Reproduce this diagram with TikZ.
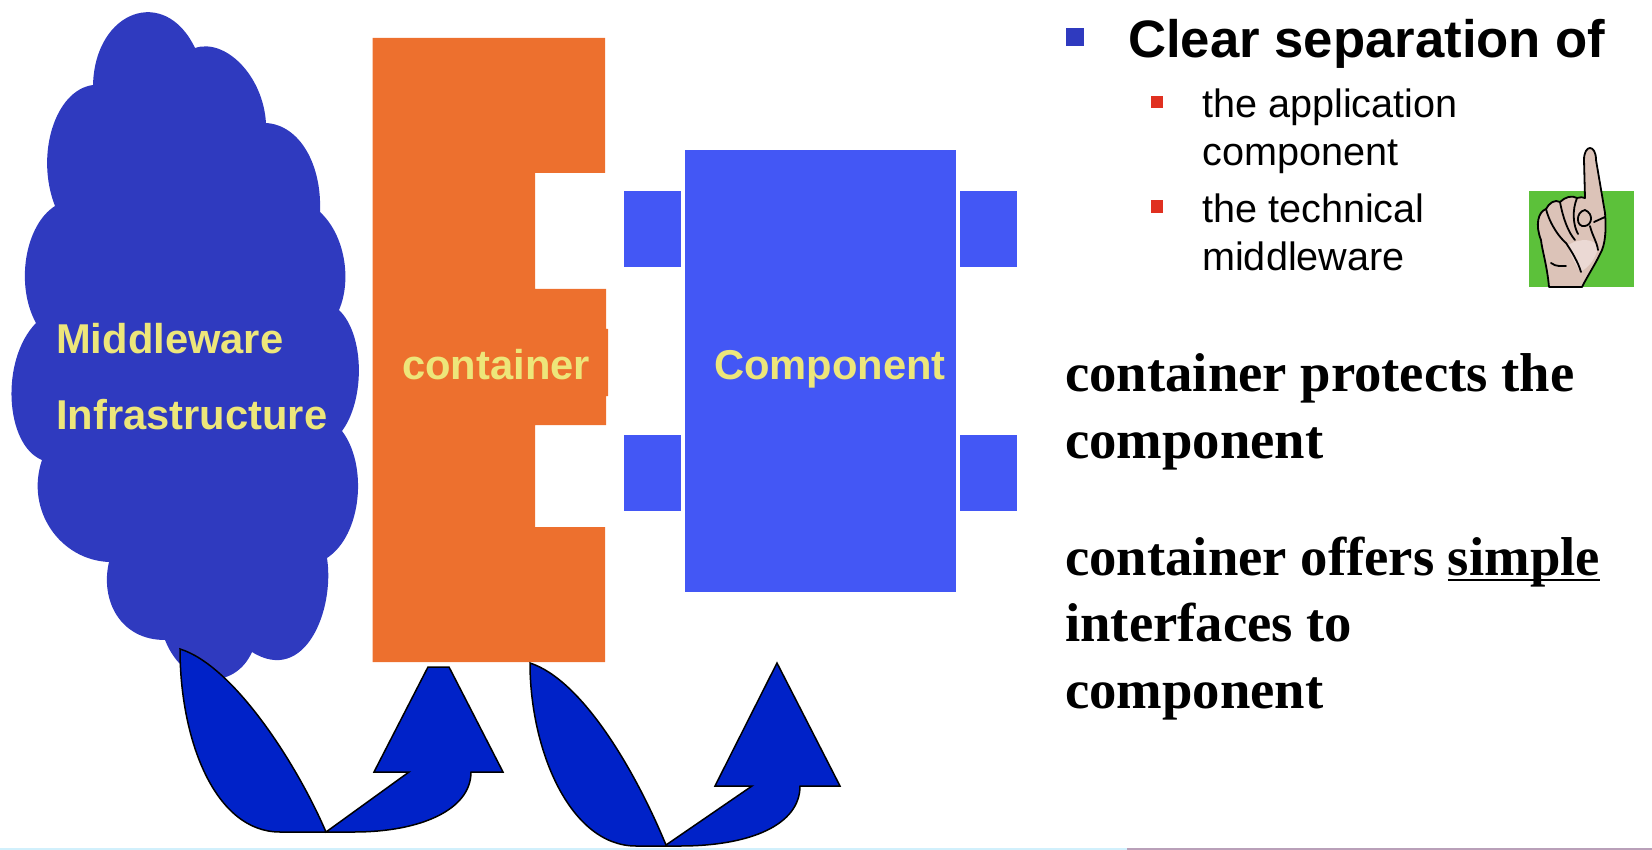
\documentclass[tikz,border=0pt]{standalone}
\usepackage{fontspec}
\setmainfont{Liberation Sans}
\newfontfamily\serifbold[BoldFont={Liberation Serif Bold}]{Liberation Serif}
\usepackage{xcolor}
\newsavebox{\ulbox}
\newcommand{\ulword}[1]{\sbox{\ulbox}{#1}\rlap{\rule[-6pt]{\wd\ulbox}{2.2pt}}#1}
\definecolor{cloudblue}{HTML}{2F3ABF}
\definecolor{boxorange}{HTML}{ED702E}
\definecolor{compblue}{HTML}{4357F5}
\definecolor{arrowblue}{HTML}{0022C8}
\definecolor{labelyellow}{HTML}{EDE67A}
\definecolor{bulletred}{HTML}{E03020}
\definecolor{handgreen}{HTML}{5CC13A}
\definecolor{skin}{HTML}{DCC3B8}
\definecolor{palm}{HTML}{EBD9D4}

\begin{document}
\begin{tikzpicture}[
    x=1pt, y=-1pt,
    port/.style={
        rectangle, fill=compblue, inner sep=0pt,
        minimum width=57pt, minimum height=76pt
    },
    lbl/.style={
        anchor=base west, inner sep=0pt, align=left, text=labelyellow,
        font=\fontsize{41.7}{76}\selectfont\bfseries
    },
    bullet/.style={
        rectangle, inner sep=0pt, minimum size=12.5pt, fill=bulletred
    },
    subtext/.style={
        anchor=base west, inner sep=0pt, align=left,
        font=\fontsize{39.6}{48}\selectfont
    },
    bigtext/.style={
        anchor=base west, inner sep=0pt, align=left,
        font=\fontsize{54.7}{66.5}\selectfont\serifbold\bfseries
    },
    bendarrow/.style={
        fill=arrowblue, draw=black, line width=1.5pt, line join=miter
    },
    handline/.style={
        draw=black, line width=1.8pt, line cap=round, line join=round
    }
]
\useasboundingbox (0,0) rectangle (1652,850);

% Bottom edge
\fill[cyan!18] (0,848) rectangle (1127,850);
\fill[violet!35!gray!55] (1127,848) rectangle (1652,850);

% Cloud
\fill[cloudblue] (93,85) .. controls (95,10) and (165,-15) .. (195,48)
    .. controls (225,38) and (263,75) .. (266,123)
    .. controls (300,125) and (322,165) .. (320,212)
    .. controls (345,235) and (352,280) .. (339,310)
    .. controls (365,335) and (365,400) .. (342,431)
    .. controls (368,465) and (362,535) .. (327,558)
    .. controls (335,610) and (305,685) .. (252,652)
    .. controls (235,690) and (185,690) .. (165,640)
    .. controls (120,640) and (100,600) .. (109,562)
    .. controls (60,560) and (25,510) .. (42,460)
    .. controls (5,445) and (0,360) .. (36,323)
    .. controls (15,285) and (25,225) .. (55,206)
    .. controls (35,155) and (55,90) .. (93,85) -- cycle;
\node[lbl] (cloudtext) at (56,429) {Middleware\\Infrastructure};

% Container
\fill[boxorange] (372.5,38) -- (605,38) -- (605,173) -- (535,173) -- (535,289)
    -- (606,289) -- (606,329) -- (608,329) -- (608,396) -- (606,396) -- (606,425)
    -- (535,425) -- (535,527) -- (605,527) -- (605,662) -- (372.5,662) -- cycle;
\node[lbl] (containertext) at (402,379) {container};

% Component
\node[rectangle, fill=compblue, inner sep=0pt, minimum width=271pt, minimum height=442pt] (component) at (820.5,371) {};
\node[lbl] (componenttext) at (714,379) {Component};
\node[port] (portnw) at (652.5,229) {};
\node[port] (portsw) at (652.5,472.5) {};
\node[port] (portne) at (988.5,229) {};
\node[port] (portse) at (988.5,472.5) {};

% Bent arrows
\draw[bendarrow] (180,649) .. controls (180,740) and (215,832) .. (280,832)
    -- (354,832) .. controls (420,832) and (471,810) .. (471,772)
    -- (503,772) -- (449,667) -- (428,667) -- (374,772) -- (409,772) -- (326,832)
    .. controls (295,760) and (232,665) .. (180,649) -- cycle;
\draw[bendarrow] (530,663) .. controls (530,750) and (570,846) .. (636,846)
    -- (680,846) .. controls (750,846) and (800,825) .. (800,786)
    -- (840,786) -- (777,663) -- (715,786) -- (752,786) -- (666,845)
    .. controls (635,770) and (582,680) .. (530,663) -- cycle;

% Right column
\node[rectangle, inner sep=0pt, minimum size=18pt, fill=cloudblue] (mainbullet) at (1075,37.5) {};
\node[anchor=base west, inner sep=0pt, font=\fontsize{52.7}{60}\selectfont\bfseries] (mainitem) at (1128,58) {Clear separation of};
\node[bullet] (redone) at (1157,102) {};
\node[subtext] (itemone) at (1202,166) {the application\\component};
\node[bullet] (redtwo) at (1157,206.5) {};
\node[subtext] (itemtwo) at (1202,271) {the technical\\middleware};
\node[bigtext] (protects) at (1065,458) {container protects the\\component};
\node[bigtext] (offers) at (1065,708) {container offers \ulword{simple}\\interfaces to\\component};

% Hand
\fill[handgreen] (1529,191) rectangle (1634,287);
\filldraw[fill=skin, handline] (1549,287) .. controls (1547,265) and (1542,250) .. (1541,240)
    .. controls (1535,225) and (1538,212) .. (1546,209)
    .. controls (1549,203) and (1555,199) .. (1560,202)
    .. controls (1565,197) and (1572,195) .. (1577,198)
    .. controls (1580,197) and (1583,197) .. (1585,198)
    -- (1584,160) .. controls (1584,144) and (1596,144) .. (1596,160)
    -- (1605,213) .. controls (1606,225) and (1606,240) .. (1602,250)
    .. controls (1595,265) and (1588,275) .. (1582,287) -- cycle;
\fill[palm] (1568,245) .. controls (1580,238) and (1595,238) .. (1598,248)
    .. controls (1595,260) and (1588,268) .. (1580,272)
    .. controls (1575,262) and (1570,255) .. (1568,245) -- cycle;
\draw[handline] (1546,209) .. controls (1550,225) and (1560,238) .. (1566,243);
\draw[handline] (1560,202) .. controls (1563,218) and (1568,232) .. (1575,240);
\draw[handline] (1577,198) .. controls (1572,210) and (1573,225) .. (1578,234);
\draw[handline] (1585,210) .. controls (1575,212) and (1576,228) .. (1585,226)
    .. controls (1592,225) and (1594,214) .. (1585,210);
\draw[handline] (1566,243) .. controls (1572,252) and (1578,262) .. (1581,272);
\draw[handline] (1551,263) .. controls (1556,267) and (1562,266) .. (1566,266);
\draw[handline] (1590,226) .. controls (1592,235) and (1597,242) .. (1598,250);
\draw[handline] (1594,222) -- (1605,217);
\end{tikzpicture}
\end{document}
